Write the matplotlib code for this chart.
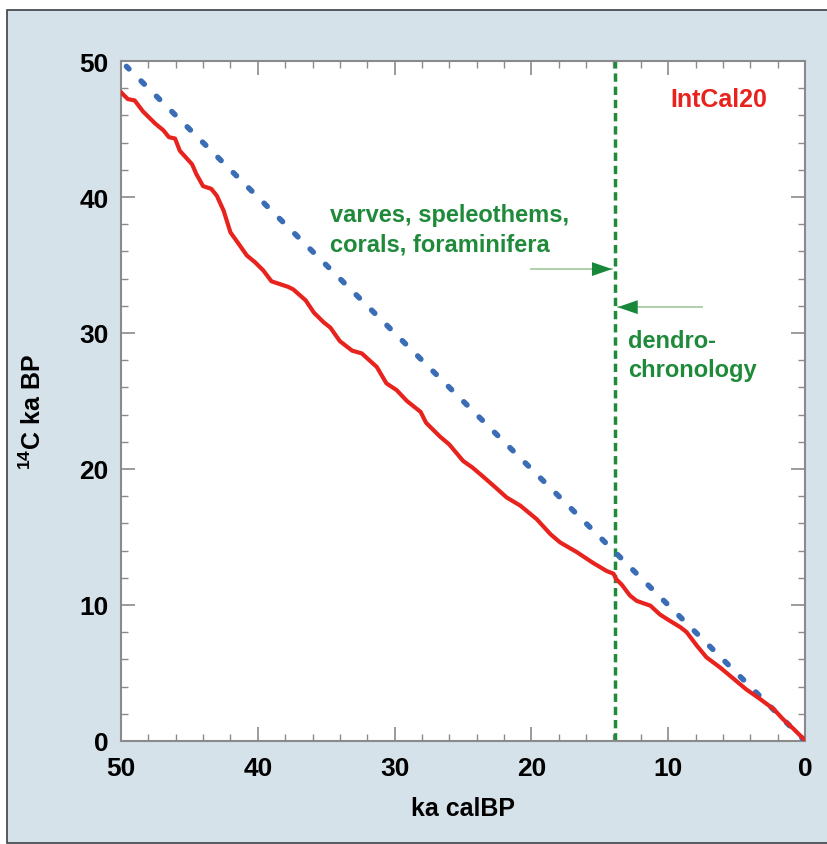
import numpy as np
import matplotlib
matplotlib.use('Agg')
import matplotlib.pyplot as plt
from matplotlib.patches import Rectangle

plt.rcParams['font.family'] = ['Liberation Sans', 'DejaVu Sans']
plt.rcParams['font.weight'] = 'bold'
plt.rcParams['mathtext.fontset'] = 'custom'
plt.rcParams['mathtext.bf'] = 'Liberation Sans:bold'
plt.rcParams['mathtext.rm'] = 'Liberation Sans:bold'

# IntCal20 (cal ka BP -> 14C ka BP)
cal_age = [50.0, 49.5, 49.0, 48.4, 47.5, 46.9, 46.5, 46.05, 45.7, 44.8, 44.5, 44.0,
           43.4, 43.0, 42.5, 42.0, 41.5, 40.8, 40.2, 39.6, 39.0, 37.8, 37.4, 36.5,
           35.9, 35.2, 34.7, 34.0, 33.1, 32.4, 31.3, 30.6, 29.85, 29.1, 28.1, 27.7,
           26.7, 26.0, 25.0, 24.3, 23.6, 22.8, 21.8, 20.8, 19.6, 18.6, 17.9, 16.7,
           15.5, 14.5, 14.0, 13.8, 13.4, 12.8, 12.3, 11.3, 10.6, 9.9, 9.1, 8.65,
           7.9, 7.2, 6.2, 5.2, 4.3, 3.3, 2.3, 1.6, 0.85, 0.1, 0.0]
c14_age = [47.7, 47.2, 47.1, 46.3, 45.4, 44.9, 44.4, 44.3, 43.4, 42.4, 41.7, 40.8,
           40.6, 40.1, 39.0, 37.4, 36.7, 35.7, 35.2, 34.6, 33.8, 33.4, 33.2, 32.4,
           31.5, 30.8, 30.4, 29.4, 28.7, 28.5, 27.5, 26.3, 25.8, 25.0, 24.2, 23.4,
           22.4, 21.8, 20.6, 20.1, 19.5, 18.8, 17.9, 17.3, 16.3, 15.2, 14.6, 13.9,
           13.1, 12.5, 12.3, 11.9, 11.5, 10.7, 10.3, 9.95, 9.3, 8.85, 8.36, 8.0,
           7.0, 6.15, 5.4, 4.56, 3.8, 3.1, 2.35, 1.6, 0.9, 0.15, 0.0]
one_to_one = [0, 49.6]
tree_ring_limit = 13.9

fig = plt.figure(figsize=(8.28, 8.45), dpi=100, facecolor='white')
fig.patches.append(Rectangle((7/828, 1/845), 1.0, 1 - 12/845, transform=fig.transFigure,
                             facecolor='#d6e2ea', edgecolor='#3c4146', lw=1.2, zorder=-10))
ax = fig.add_axes([121/828, 1 - 742/845, 684/828, 680/845])
ax.set_facecolor('white')

ax.plot(one_to_one, one_to_one, color='#3b6db6', lw=4.0, ls=(0, (0.8, 3.1)),
        dash_capstyle='round', zorder=3)
ax.plot(cal_age, c14_age, color='#e8231e', lw=3.0, zorder=4)
ax.axvline(tree_ring_limit, color='#1f8a3a', lw=2.5, ls=(0, (2.4, 1.4)), zorder=2)

green = '#1f8a3a'
ax.text(6.3, 47.2, 'IntCal20', color='#e8231e', fontsize=18, ha='center', va='center')
ax.text(34.7, 37.6, 'varves, speleothems,\ncorals, foraminifera', color=green,
        fontsize=17, ha='left', va='center', linespacing=1.35)
ax.text(12.95, 28.4, 'dendro-\nchronology', color=green, fontsize=17,
        ha='left', va='center', linespacing=1.35)

# arrows: light shaft + dark head
for tail, tip, y in [(20.0, 14.1, 34.7), (7.5, 13.7, 31.9)]:
    ax.plot([tail, tip], [y, y], color='#a9cba4', lw=1.3, zorder=5)
    d = 0.3 if tip < tail else -0.3
    ax.annotate('', xy=(tip, y), xytext=(tip + d, y),
                arrowprops=dict(arrowstyle='-|>,head_length=1.45,head_width=0.5',
                                color='#17883a', lw=0, shrinkA=0, shrinkB=0), zorder=6)

ax.set_xlim(50, 0)
ax.set_ylim(0, 50)
ax.set_xticks(np.arange(0, 51, 10))
ax.set_yticks(np.arange(0, 51, 10))
ax.set_xticks(np.arange(0, 51, 2), minor=True)
ax.set_yticks(np.arange(0, 51, 2), minor=True)
ax.tick_params(which='both', direction='in', top=True, right=True, color='#8a8a8a')
ax.tick_params(which='major', length=10, width=1.2, labelsize=19, pad=9)
ax.tick_params(which='minor', length=5, width=1.0)
ax.tick_params(axis='x', which='major', pad=11)
for s in ax.spines.values():
    s.set_color('#8a8a8a')
    s.set_linewidth(1.5)

ax.set_xlabel('ka calBP', fontsize=18, fontweight='bold')
ax.set_ylabel(r'$^{\mathbf{14}}$C ka BP', fontsize=18, fontweight='bold')
ax.xaxis.set_label_coords(0.5, -0.081)
ax.yaxis.set_label_coords(-0.11, 0.485)

fig.savefig('out.png', dpi=100, facecolor='white')
